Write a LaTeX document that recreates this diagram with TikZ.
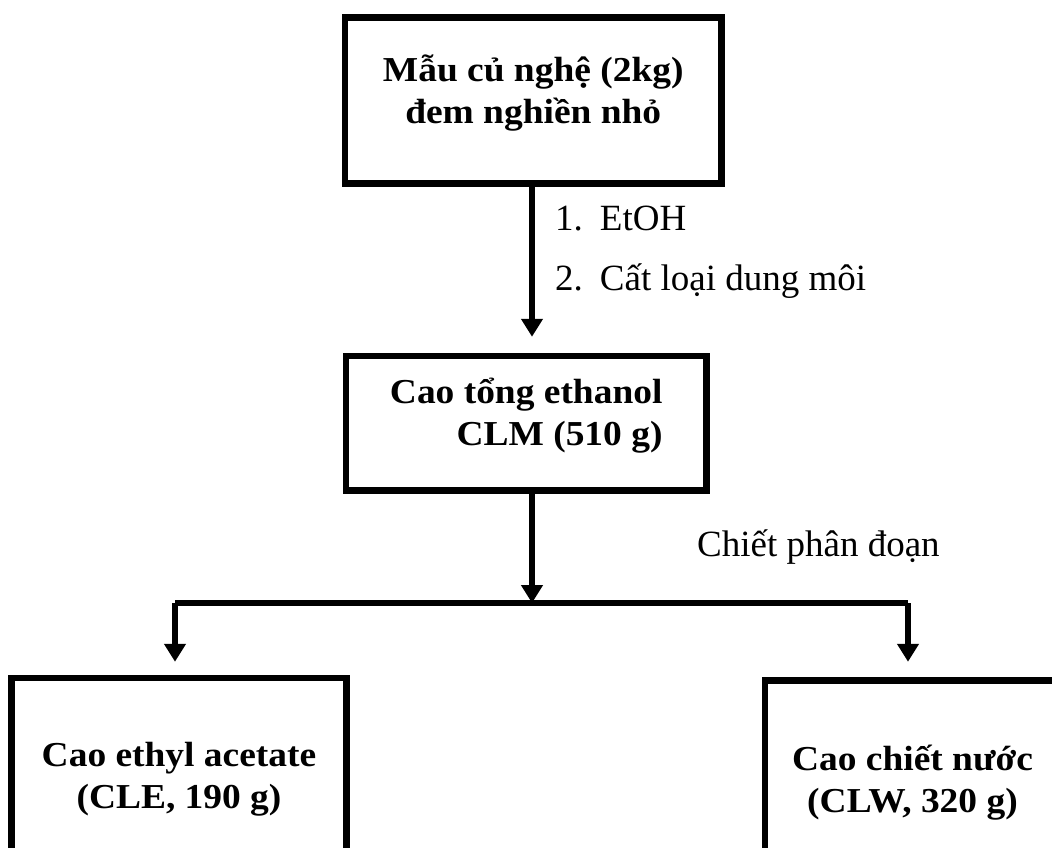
\documentclass[tikz,border=0pt]{standalone}
\usepackage{fontspec}
\setmainfont{Liberation Serif}
\newfontfamily\boxfont[FakeStretch=1.07]{Liberation Serif}
\usetikzlibrary{arrows.meta}

\begin{document}
\begin{tikzpicture}[x=1pt,y=-1pt,
            boxed/.style={draw, line width=6.5pt, inner sep=0pt, align=center, text depth=0pt,
              font=\fontsize{35}{41.5}\selectfont\boxfont\bfseries},
            flow/.style={line width=6.5pt, -{Triangle[length=18pt,width=21pt]}},
            note/.style={anchor=base west, inner sep=0pt,
              font=\fontsize{37}{40}\selectfont}]
            \path[use as bounding box] (0,0) rectangle (1052,847);

            \node[boxed, minimum width=376.5pt, minimum height=166pt, text height=45pt] (mau) at (533.25,100.5)
                {Mẫu củ nghệ (2kg)\\đem nghiền nhỏ};
            \node[boxed, align=right, minimum width=360.5pt, minimum height=134.5pt, text height=43.5pt] (cao) at (526.25,423.25)
                {Cao tổng ethanol\\CLM (510 g)};
            \node[boxed, minimum width=335pt, minimum height=244pt, text height=16pt] (cle) at (179,800)
                {Cao ethyl acetate\\(CLE, 190 g)};
            \node[boxed, minimum width=295pt, minimum height=249pt, text height=14pt] (clw) at (912.5,805)
                {Cao chiết nước\\(CLW, 320 g)};

            \node[note] (etoh) at (555,230) {1.\hspace{17pt}EtOH};
            \node[note] (catloai) at (555,290) {2.\hspace{17pt}Cất loại dung môi};
            \node[note] (chiet) at (697,556) {Chiết phân đoạn};

            \coordinate (split) at (532,603);
            \coordinate (left) at (175,603);
            \coordinate (right) at (908,603);

            \draw[flow] (mau.south -| split) -- ([yshift=16pt]cao.north -| split);
            \draw[flow] (cao.south -| split) -- (split);
            \draw[line width=6.5pt] (left) -- (right);
            \draw[flow] (left) -- ([yshift=13pt]cle.north -| left);
            \draw[flow] (right) -- ([yshift=15.5pt]clw.north -| right);
      \end{tikzpicture}
\end{document}
